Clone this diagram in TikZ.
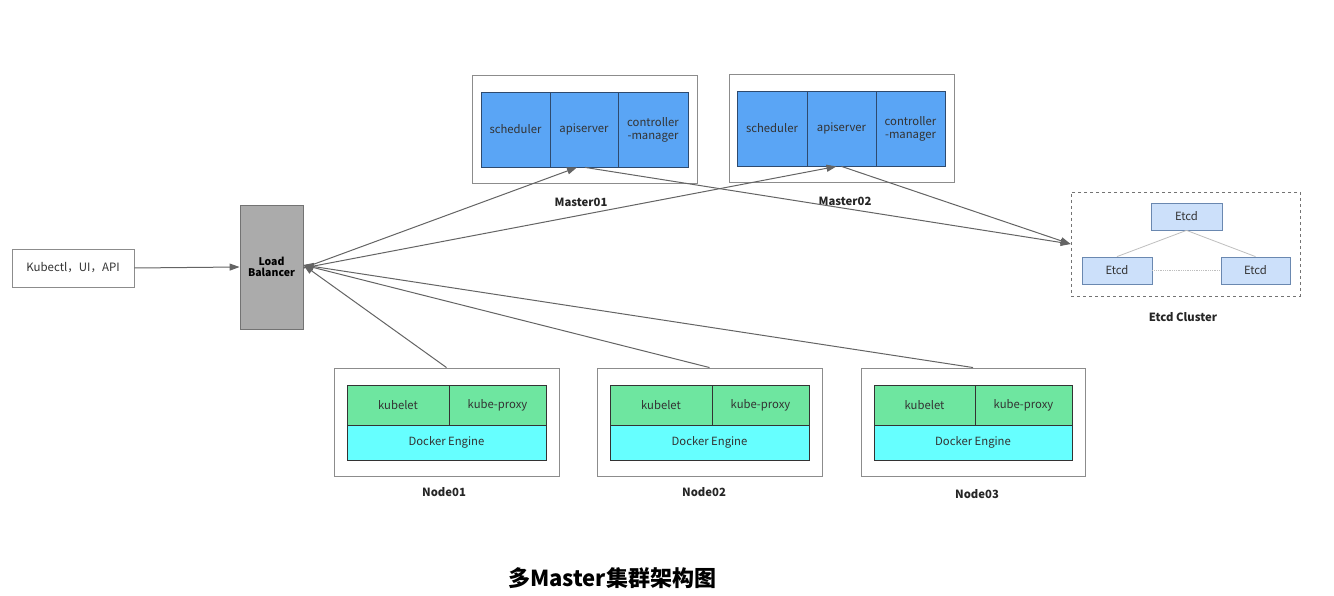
\documentclass[tikz,border=0pt]{standalone}
\usepackage{fontspec}
\setmainfont{Noto Sans CJK SC}
\usetikzlibrary{arrows.meta}
\definecolor{mblue}{HTML}{5AA5F5}
\definecolor{mblueb}{HTML}{2E4A6E}
\definecolor{ngreen}{HTML}{6EE6A0}
\definecolor{ncyan}{HTML}{66FFFF}
\definecolor{lbgray}{HTML}{ABABAB}
\definecolor{efill}{HTML}{CCE0FA}
\definecolor{eborder}{HTML}{6A88B0}
\definecolor{linegray}{HTML}{646464}
\definecolor{txt}{HTML}{333333}
\tikzset{
  x=1pt, y=-1pt,
  cell/.style={draw, inner sep=0pt, font=\fontsize{11.3}{13}\selectfont, text=txt, align=center},
  mcell/.style={cell, draw=mblueb, fill=mblue, line width=0.8pt},
  ncell/.style={cell, draw=black!80, fill=ngreen, line width=0.8pt},
  dcell/.style={cell, draw=black!80, fill=ncyan, line width=0.8pt},
  ecell/.style={cell, draw=eborder, fill=efill, line width=0.8pt},
  outerbox/.style={draw=black!45, line width=0.9pt, inner sep=0pt},
  lbl/.style={font=\fontsize{11.3}{13}\selectfont\bfseries, text=black!85},
  conn/.style={draw=linegray, line width=1pt, -{Triangle[length=10pt,width=7pt]}},
  elink/.style={draw=black!25, line width=0.8pt},
}
\begin{document}
\begin{tikzpicture}
\useasboundingbox (0,0) rectangle (1334,596);
\fill[white] (0,0) rectangle (1334,596);

% client
\node[outerbox, draw=black!45, minimum width=122pt, minimum height=38pt, font=\fontsize{11.5}{13}\selectfont, text=txt] (kub) at (73,268) {Kubectl，UI，API};
% load balancer
\node[draw=black!55, fill=lbgray, line width=0.9pt, minimum width=63pt, minimum height=124pt, inner sep=0pt, align=center, font=\fontsize{10.5}{11.5}\selectfont\bfseries] (lb) at (271.5,267) {Load\\Balancer};

% Master01
\node[outerbox, minimum width=225pt, minimum height=108pt] (m1) at (584.5,129) {};
\node[mcell, minimum width=69pt, minimum height=75pt] (m1sch) at (515.5,129.5) {scheduler};
\node[mcell, minimum width=68pt, minimum height=75pt] (m1api) at (584,129.5) {apiserver};
\node[mcell, minimum width=70pt, minimum height=75pt] (m1cm) at (653,129.5) {controller\\-manager};
\node[lbl] (m1l) at (581,202) {Master01};

% Master02
\node[outerbox, minimum width=225pt, minimum height=108pt] (m2) at (841.5,128) {};
\node[mcell, minimum width=70pt, minimum height=75pt] (m2sch) at (772,128.5) {scheduler};
\node[mcell, minimum width=69pt, minimum height=75pt] (m2api) at (841.5,128.5) {apiserver};
\node[mcell, minimum width=69pt, minimum height=75pt] (m2cm) at (910.5,128.5) {controller\\-manager};
\node[lbl] (m2l) at (845,201) {Master02};

% Etcd cluster
\node[draw=black!55, dashed, line width=0.8pt, minimum width=229pt, minimum height=104pt, inner sep=0pt] (etcdc) at (1185.5,244) {};
\node[ecell, minimum width=71pt, minimum height=27pt] (e1) at (1186.5,216.5) {Etcd};
\node[ecell, minimum width=70pt, minimum height=27pt] (e2) at (1117,270.5) {Etcd};
\node[ecell, minimum width=69pt, minimum height=27pt] (e3) at (1255.5,270.5) {Etcd};
\draw[elink] (e1.south) -- (e2.north);
\draw[elink] (e1.south) -- (e3.north);
\draw[elink, densely dotted] (e2.east) -- (e3.west);
\node[lbl] (el) at (1183,317) {Etcd Cluster};

% Nodes
\node[outerbox, minimum width=225pt, minimum height=108pt] (n1) at (446.5,422) {};
\node[ncell, minimum width=102pt, minimum height=40pt] (n1k) at (398,405) {kubelet};
\node[ncell, minimum width=97pt, minimum height=40pt] (n1p) at (497.5,405) {kube-proxy};
\node[dcell, minimum width=199pt, minimum height=35pt] (n1d) at (446.5,442.5) {Docker Engine};
\node[lbl] (n1l) at (444,492) {Node01};

\node[outerbox, minimum width=225pt, minimum height=108pt] (n2) at (709.5,422) {};
\node[ncell, minimum width=102pt, minimum height=40pt] (n2k) at (661,405) {kubelet};
\node[ncell, minimum width=97pt, minimum height=40pt] (n2p) at (760.5,405) {kube-proxy};
\node[dcell, minimum width=199pt, minimum height=35pt] (n2d) at (709.5,442.5) {Docker Engine};
\node[lbl] (n2l) at (704,492) {Node02};

\node[outerbox, minimum width=224pt, minimum height=108pt] (n3) at (973,422) {};
\node[ncell, minimum width=101pt, minimum height=40pt] (n3k) at (924.5,405) {kubelet};
\node[ncell, minimum width=97pt, minimum height=40pt] (n3p) at (1023.5,405) {kube-proxy};
\node[dcell, minimum width=198pt, minimum height=35pt] (n3d) at (973,442.5) {Docker Engine};
\node[lbl] (n3l) at (977,494) {Node03};

% connectors
\draw[conn] (kub.east) -- (lb.west);
\draw[conn] ([yshift=-1pt]lb.east) -- ([xshift=-7pt]m1api.south);
\draw[conn] ([yshift=-1pt]lb.east) -- ([xshift=-5pt]m2api.south);
\draw[conn] ([xshift=1pt]m1api.south) -- (etcdc.west);
\draw[conn] ([xshift=0pt]m2api.south) -- (etcdc.west);
\draw[conn] (n1.north) -- ([yshift=2pt]lb.east);
\draw[conn] (n2.north) -- ([yshift=2pt]lb.east);
\draw[conn] (n3.north) -- ([yshift=2pt]lb.east);

% title
\node[font=\fontsize{22}{26}\selectfont\bfseries, text=black] (title) at (612,578) {多Master集群架构图};
\end{tikzpicture}
\end{document}
